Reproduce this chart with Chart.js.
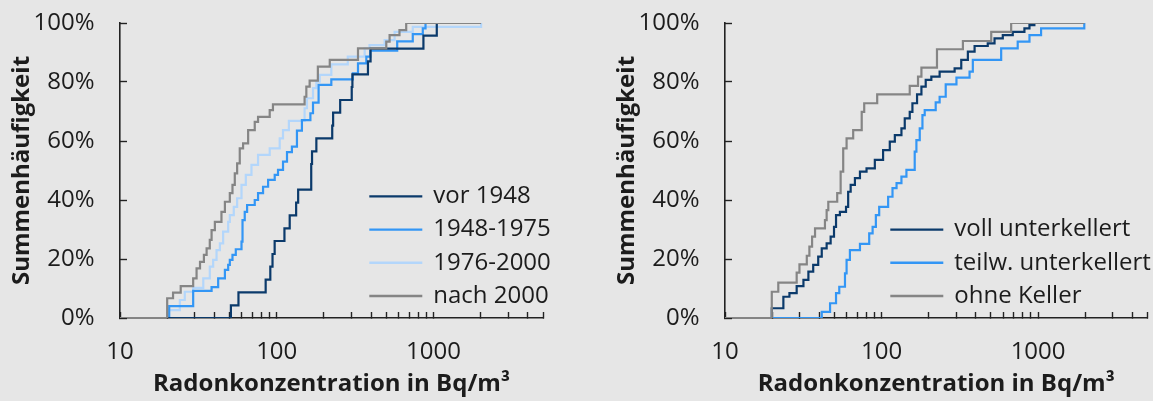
<!DOCTYPE html>
<html lang="de">
<head>
<meta charset="utf-8">
<title>Radonkonzentration – Summenhäufigkeit</title>
<script src="https://cdn.jsdelivr.net/npm/chart.js@4.4.1/dist/chart.umd.min.js"></script>
<style>
  html, body { margin: 0; padding: 0; background: #e6e6e6; overflow: hidden; }
  body { width: 1153px; height: 401px; position: relative; }
  canvas { position: absolute; top: 0; }
  #chartBaujahr { left: 0; }
  #chartKeller { left: 605px; }
</style>
</head>
<body>
<canvas id="chartBaujahr" width="576" height="401"></canvas>
<canvas id="chartKeller" width="548" height="401"></canvas>
<script>
// Axis settings (Bq/m³ on a log axis, cumulative share in %)
const xMin = 10;
const xMax = 5000;
const xTickValues = [10, 20, 30, 40, 50, 60, 70, 80, 90,
                     100, 200, 300, 400, 500, 600, 700, 800, 900,
                     1000, 2000, 3000, 4000, 5000];
const xTickLabels = [10, 100, 1000];
const yTickLabels = [0, 20, 40, 60, 80, 100];

// Panel 1: by year of construction
const baujahrLabels = ['vor 1948', '1948-1975', '1976-2000', 'nach 2000'];

const vor1948X = [51, 57, 85, 91, 94, 97, 112, 121, 133, 137, 166, 168, 179, 226, 229, 254, 301, 304, 382, 397, 863, 1050];
const vor1948Y = [4.3, 8.7, 13.0, 17.4, 21.7, 26.1, 30.4, 34.8, 39.1, 43.5, 52.2, 56.5, 60.9, 65.2, 69.6, 73.9, 78.3, 82.6, 87.0, 91.3, 95.7, 100];

const bj1948X = [20.6, 29.3, 38.4, 42.3, 46.7, 49.0, 50.2, 52.2, 54.8, 59.6, 60.5, 62.5, 64.7, 72.4, 76, 81.8, 88.1, 97.1, 101.9, 109.7, 116.3, 125, 134.6, 144.8, 164, 170.4, 185, 223, 306, 330, 373, 395, 587, 738, 855, 890];
const bj1948Y = [4.0, 9.2, 10.5, 13.4, 16.3, 18.0, 19.7, 21.4, 23.3, 25.9, 33.2, 36.0, 38.3, 40.0, 42.3, 44.5, 46.8, 48.5, 50.2, 53.0, 56.2, 58.1, 63.5, 67.1, 69.4, 73.0, 79.0, 80.9, 82.9, 86.3, 88.6, 90.6, 93.8, 96.2, 98.2, 100];

const bj1976X = [20.3, 24.1, 25.9, 29.3, 34.0, 37.4, 39.3, 41.3, 43.4, 45.5, 49.0, 50.2, 53.2, 55.9, 59.6, 63.5, 69.0, 76.0, 90.2, 104.5, 109.7, 119.6, 150.6, 155.9, 170.4, 179, 188, 223, 284, 364, 391, 488, 565, 738, 2014];
const bj1976Y = [2.7, 6.1, 8.9, 10.2, 13.4, 17.4, 19.7, 23.0, 25.3, 29.3, 32.6, 34.9, 37.7, 40.6, 45.1, 48.5, 51.9, 55.3, 57.5, 60.9, 63.7, 66.8, 71.1, 74.5, 77.9, 80.1, 82.4, 86.0, 88.6, 91.4, 92.5, 94.2, 97.0, 98.7, 100];

const nach2000X = [20.0, 21.8, 24.4, 29.3, 30.8, 32.4, 34.3, 35.7, 37.4, 38.4, 40.3, 44.4, 46.7, 50.2, 52.2, 54.0, 55.9, 58.1, 61.0, 65.7, 72.4, 76.0, 90.2, 94.6, 150.6, 154.5, 162.2, 183, 218, 330, 500, 525, 607, 670, 2014];
const nach2000Y = [6.7, 8.6, 10.8, 13.4, 16.8, 19.0, 21.4, 23.6, 26.5, 29.8, 32.6, 36.0, 39.4, 42.3, 45.1, 49.0, 52.4, 57.5, 59.2, 63.7, 66.5, 68.2, 70.5, 72.4, 75.0, 78.4, 80.5, 85.2, 87.5, 91.4, 93.7, 95.9, 97.6, 100, 100];

// Panel 2: by basement type
const kellerLabels = ['voll unterkellert', 'teilw. unterkellert', 'ohne Keller'];

const vollX = [19.9, 23.6, 25.8, 28.7, 31.7, 34.1, 36.6, 39.4, 41.5, 44.6, 47.3, 49.7, 51.2, 54.2, 59.3, 61.2, 63.5, 67.6, 72.8, 80.2, 90.6, 102.3, 112.9, 121.6, 134, 140.7, 151.4, 157.5, 168.6, 179.8, 191.5, 208, 235, 293, 323, 356, 393, 477, 527, 595, 689, 818, 881, 947];
const vollY = [3.3, 7.2, 8.4, 10.8, 12.9, 15.7, 18.0, 20.8, 23.6, 25.3, 27.6, 30.9, 34.9, 36.0, 37.7, 42.8, 45.1, 47.4, 49.6, 50.7, 53.6, 56.9, 59.8, 62.0, 64.3, 67.7, 69.9, 72.8, 75.8, 78.4, 80.7, 81.8, 83.5, 84.6, 87.5, 90.3, 92.2, 93.1, 94.8, 95.9, 97.0, 98.2, 99.3, 100];

const teilwX = [41.5, 46.9, 51.2, 53.7, 58.4, 59.8, 62.8, 72.8, 83.4, 87.7, 92.0, 96.6, 110.2, 117.5, 124.7, 134, 144.2, 162.9, 167, 175.4, 182.5, 188.7, 221.8, 235, 257, 301, 365, 383, 581, 741, 881, 1045, 1973];
const teilwY = [2.1, 5.0, 8.4, 10.6, 15.1, 19.7, 23.0, 25.1, 28.7, 30.9, 34.9, 37.7, 41.1, 44.0, 45.7, 47.9, 50.2, 56.4, 60.3, 64.3, 68.8, 70.5, 73.1, 75.0, 79.2, 81.5, 83.5, 87.5, 91.4, 93.7, 95.9, 98.2, 100];

const ohneX = [19.9, 21.9, 28.7, 29.9, 33.3, 34.6, 36.0, 37.6, 43.5, 44.6, 45.7, 52.1, 54.8, 56.9, 59.8, 65.9, 74.7, 77.5, 93.8, 151.4, 171, 179.8, 226, 331, 502, 673, 1973];
const ohneY = [8.9, 12.0, 15.4, 18.2, 21.1, 24.2, 27.6, 30.4, 33.2, 36.6, 39.4, 42.3, 49.6, 57.5, 60.9, 63.7, 69.9, 72.8, 75.8, 78.7, 81.8, 84.9, 91.1, 93.9, 97.0, 100, 100];

// Colours
const navy = '#0b3a6b';
const blue = '#3396f5';
const lightBlue = '#b3d6fb';
const grey = '#858585';
const textColor = '#1c1c1c';
const axisColor = '#222222';
const fontFamily = '"Open Sans", "Noto Sans", sans-serif';

// Empirical distribution: flat at 0 % from the axis start, then a step at every value
function stepSeries(xs, ys) {
  const pts = [{ x: xMin, y: 0 }];
  xs.forEach((x, i) => pts.push({ x, y: ys[i] }));
  return pts;
}

function series(label, xs, ys, color, order) {
  return {
    label,
    data: stepSeries(xs, ys),
    borderColor: color,
    backgroundColor: color,
    borderWidth: 2.2,
    stepped: 'before',
    showLine: true,
    pointRadius: 0,
    pointHoverRadius: 0,
    fill: false,
    order
  };
}

// Legend drawn inside the plot area, lower right
const inlineLegend = {
  id: 'inlineLegend',
  afterDatasetsDraw(chart, args, opts) {
    const { ctx, chartArea } = chart;
    const sets = chart.data.datasets;
    ctx.save();
    ctx.font = opts.font;
    ctx.textBaseline = 'middle';
    ctx.textAlign = 'left';
    sets.forEach((ds, i) => {
      const y = chartArea.bottom - opts.bottom - (sets.length - 1 - i) * opts.spacing;
      const x = chartArea.left + opts.left;
      ctx.strokeStyle = ds.borderColor;
      ctx.lineWidth = 2.4;
      ctx.beginPath();
      ctx.moveTo(x, y);
      ctx.lineTo(x + opts.lineLength, y);
      ctx.stroke();
      ctx.fillStyle = opts.color;
      ctx.fillText(ds.label, x + opts.lineLength + opts.gap, y);
    });
    ctx.restore();
  }
};

// Scales keep fixed sizes; the label overhang padding is dropped so the plot box stays put
function fixX(scale) {
  scale.height = 83;
  scale.paddingLeft = 0;
  scale.paddingRight = 0;
}
function fixY(scale) {
  scale.width = 120;
  scale.paddingTop = 0;
  scale.paddingBottom = 0;
}

function makeChart(canvasId, datasets, padRight, legendLeft) {
  return new Chart(document.getElementById(canvasId), {
    type: 'scatter',
    data: { datasets },
    plugins: [inlineLegend],
    options: {
      responsive: false,
      animation: false,
      devicePixelRatio: 1,
      layout: { padding: { top: 23, right: padRight, bottom: 0, left: 0 } },
      plugins: {
        legend: { display: false },
        tooltip: { enabled: false },
        inlineLegend: {
          left: legendLeft,
          bottom: 22,
          spacing: 33.2,
          lineLength: 53,
          gap: 11,
          font: '24px ' + fontFamily,
          color: textColor
        }
      },
      scales: {
        x: {
          type: 'logarithmic',
          position: 'bottom',
          min: xMin,
          max: xMax,
          afterBuildTicks: (scale) => {
            scale.ticks = xTickValues.map((v) => ({ value: v }));
          },
          afterFit: fixX,
          border: { display: true, color: axisColor, width: 1.6 },
          grid: {
            drawOnChartArea: false,
            drawTicks: true,
            tickLength: -6,
            tickColor: axisColor,
            tickWidth: 1.4
          },
          ticks: {
            autoSkip: false,
            maxRotation: 0,
            padding: 26,
            color: textColor,
            font: { family: fontFamily, size: 24 },
            callback: (v) => (xTickLabels.includes(v) ? String(v) : '')
          },
          title: {
            display: true,
            text: 'Radonkonzentration in Bq/m³',
            color: textColor,
            font: { family: fontFamily, size: 24, weight: 'bold' },
            padding: { top: 0, bottom: 2 }
          }
        },
        y: {
          type: 'linear',
          position: 'left',
          min: 0,
          max: 100,
          afterFit: fixY,
          border: { display: true, color: axisColor, width: 1.6 },
          grid: {
            drawOnChartArea: false,
            drawTicks: true,
            tickLength: -7,
            tickColor: axisColor,
            tickWidth: 1.4
          },
          ticks: {
            stepSize: 10,
            padding: 32.5,
            color: textColor,
            font: { family: fontFamily, size: 24 },
            callback: (v) => (yTickLabels.includes(v) ? v + '%' : '')
          },
          title: {
            display: true,
            text: 'Summenhäufigkeit',
            color: textColor,
            font: { family: fontFamily, size: 24, weight: 'bold' },
            padding: { top: 7.5, bottom: 0 }
          }
        }
      }
    }
  });
}

makeChart('chartBaujahr', [
  series(baujahrLabels[0], vor1948X, vor1948Y, navy, 1),
  series(baujahrLabels[1], bj1948X, bj1948Y, blue, 2),
  series(baujahrLabels[2], bj1976X, bj1976Y, lightBlue, 3),
  series(baujahrLabels[3], nach2000X, nach2000Y, grey, 0)
], 33, 249.3);

makeChart('chartKeller', [
  series(kellerLabels[0], vollX, vollY, navy, 1),
  series(kellerLabels[1], teilwX, teilwY, blue, 2),
  series(kellerLabels[2], ohneX, ohneY, grey, 0)
], 5.5, 165.3);
</script>
</body>
</html>
